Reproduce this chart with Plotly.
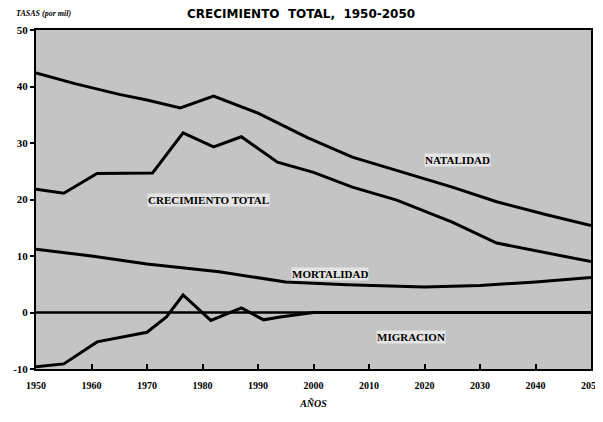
import plotly.graph_objects as go

title = "CRECIMIENTO&nbsp;&nbsp;TOTAL,&nbsp;&nbsp;1950-2050"

nat_years = [1950, 1957, 1965, 1970, 1976, 1982, 1990, 1999, 2007, 2015, 2025, 2033, 2042, 2050]
nat_vals  = [42.4, 40.5, 38.6, 37.6, 36.2, 38.3, 35.3, 30.9, 27.5, 25.2, 22.2, 19.6, 17.3, 15.4]

ct_years = [1950, 1955, 1961, 1971, 1976.5, 1982, 1987, 1993.5, 2000, 2007, 2015, 2025, 2033, 2042, 2050]
ct_vals  = [21.8, 21.1, 24.6, 24.7, 31.8, 29.3, 31.1, 26.6, 24.8, 22.2, 19.9, 16.0, 12.3, 10.5, 9.0]

mort_years = [1950, 1960, 1970, 1983, 1995, 2006, 2020, 2030, 2040, 2050]
mort_vals  = [11.2, 10.0, 8.6, 7.2, 5.4, 4.9, 4.5, 4.8, 5.4, 6.2]

mig_years = [1950, 1955, 1961, 1970, 1973.5, 1976.5, 1981.5, 1987, 1991, 1994, 2000, 2010, 2020, 2030, 2040, 2050]
mig_vals  = [-9.6, -9.1, -5.2, -3.5, -0.8, 3.1, -1.4, 0.8, -1.3, -0.8, 0.0, 0.0, 0.0, 0.0, 0.0, 0.0]

zero_years = [1950, 2050]
zero_vals = [0, 0]

x_ticks = [1950, 1960, 1970, 1980, 1990, 2000, 2010, 2020, 2030, 2040, 2050]
y_ticks = [-10, 0, 10, 20, 30, 40, 50]

labels = [
    ("NATALIDAD", 2026, 27.0),
    ("CRECIMIENTO TOTAL", 1981, 20.0),
    ("MORTALIDAD", 2003, 6.9),
    ("MIGRACION", 2017.5, -4.3),
]

fig = go.Figure()
line = dict(color="black", width=3)
fig.add_trace(go.Scatter(x=zero_years, y=zero_vals, mode="lines", line=dict(color="black", width=2.5)))
for xs, ys in [(nat_years, nat_vals), (ct_years, ct_vals), (mort_years, mort_vals), (mig_years, mig_vals)]:
    fig.add_trace(go.Scatter(x=xs, y=ys, mode="lines", line=line))

for text, xv, yv in labels:
    fig.add_annotation(x=xv, y=yv, text="<b>" + text + "</b>", showarrow=False,
                       font=dict(family="Liberation Serif", size=11, color="black"),
                       bgcolor="rgba(255,255,255,0.55)", borderpad=0)

fig.update_layout(
    width=595, height=414,
    margin=dict(l=28, r=12, t=22, b=53),
    paper_bgcolor="white", plot_bgcolor="#c4c4c4",
    showlegend=False,
    xaxis=dict(range=[1950, 2050], tickvals=x_ticks, ticktext=["<b>%d</b>" % v for v in x_ticks],
               showgrid=False, zeroline=False, showline=True, linecolor="black", linewidth=2,
               mirror=True, ticks="inside", ticklen=5, tickcolor="black", tickwidth=2,
               ticklabelstandoff=6, ticklabeloverflow="allow", automargin=False,
               tickfont=dict(family="Liberation Serif", size=10, color="black"),
               title=dict(text="<i><b>AÑOS</b></i>", font=dict(family="Liberation Serif", size=10, color="black"), standoff=10)),
    yaxis=dict(range=[-10, 50], tickvals=y_ticks, ticktext=["<b>%d</b>" % v for v in y_ticks],
               showgrid=False, zeroline=False, showline=True, linecolor="black", linewidth=2,
               mirror=True, ticks="outside", ticklen=4, tickcolor="black", tickwidth=2,
               automargin=False,
               tickfont=dict(family="Liberation Serif", size=11, color="black")),
)
fig.add_annotation(xref="paper", yref="paper", x=0.477, y=1.075, xanchor="center", yanchor="top",
                   text="<b>" + title + "</b>", showarrow=False,
                   font=dict(family="DejaVu Sans", size=12, color="black"))
fig.add_annotation(xref="paper", yref="paper", x=-0.04, y=1.03, xanchor="left", yanchor="bottom",
                   text="<b><i>TASAS (por mil)</i></b>", showarrow=False,
                   font=dict(family="Liberation Serif", size=8, color="black"))

fig.write_html("out.html")
